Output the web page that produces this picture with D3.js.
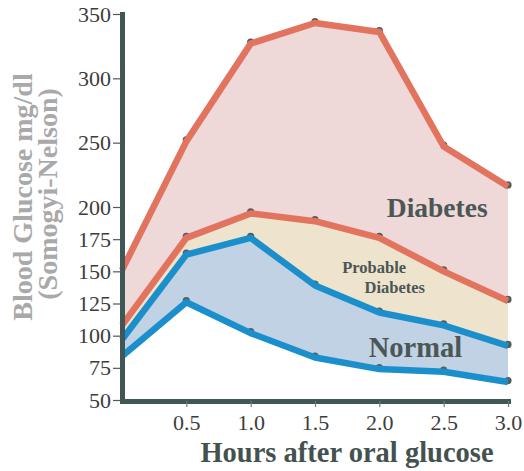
<!DOCTYPE html>
<html>
<head>
<meta charset="utf-8">
<script src="https://cdn.jsdelivr.net/npm/d3@7"></script>
<style>
  html, body { margin: 0; padding: 0; background: #ffffff; }
  svg { display: block; }
</style>
</head>
<body>
<svg id="chart" width="524" height="471"></svg>
<script>
// ---- data ----
const hours = [0, 0.5, 1.0, 1.5, 2.0, 2.5, 3.0];
const diabetesUpper = [151, 251, 327, 343, 336, 247, 216];
const probableUpper = [108, 176, 195, 189, 176, 150, 127];
const normalUpper = [97, 163, 176, 139, 118, 108, 92];
const normalLower = [84, 126, 102, 83, 74, 72, 64];
const yTicks = [50, 75, 100, 125, 150, 175, 200, 250, 300, 350];
const xTicks = [0.5, 1.0, 1.5, 2.0, 2.5, 3.0];
const xTickLabels = ["0.5", "1.0", "1.5", "2.0", "2.5", "3.0"];

const svg = d3.select("#chart");
const serif = "'Liberation Serif', 'DejaVu Serif', serif";

const x = d3.scaleLinear().domain([0, 3]).range([122, 508]);
const y = d3.scaleLinear().domain([50, 350]).range([400, 14]);

function band(top, bottom) {
  return d3.area()
    .x((d, i) => x(hours[i]))
    .y0((d, i) => y(bottom[i]))
    .y1((d, i) => y(top[i]))(top);
}
const line = d3.line().x((d, i) => x(hours[i])).y(d => y(d));

// fills
svg.append("path").attr("d", band(diabetesUpper, probableUpper)).attr("fill", "#eed8d8");
svg.append("path").attr("d", band(probableUpper, normalUpper)).attr("fill", "#eee3cd");
svg.append("path").attr("d", band(normalUpper, normalLower)).attr("fill", "#c0d2e3");

// dots beneath lines
const series = [
  { vals: diabetesUpper, color: "#e2735f" },
  { vals: probableUpper, color: "#e2735f" },
  { vals: normalUpper, color: "#1b8fcc" },
  { vals: normalLower, color: "#1b8fcc" }
];
series.forEach(s => {
  svg.append("g").selectAll("circle").data(s.vals.slice(1)).join("circle")
    .attr("cx", (d, i) => x(hours[i + 1]))
    .attr("cy", d => y(d) - 1.5)
    .attr("r", 3.6)
    .attr("fill", "#555d5c");
});
series.forEach(s => {
  svg.append("path").attr("d", line(s.vals))
    .attr("fill", "none")
    .attr("stroke", s.color)
    .attr("stroke-width", 6.5)
    .attr("stroke-linejoin", "round");
});

// region labels
const lab = svg.append("g").attr("font-family", serif).attr("font-weight", "bold").attr("fill", "#4a5755");
lab.append("text").attr("x", x(2.45)).attr("y", 217).attr("text-anchor", "middle").attr("font-size", 27.5).text("Diabetes");
lab.append("text").attr("x", x(1.96)).attr("y", 273).attr("text-anchor", "middle").attr("font-size", 16.5).text("Probable");
lab.append("text").attr("x", x(2.12)).attr("y", 293).attr("text-anchor", "middle").attr("font-size", 16.5).text("Diabetes");
lab.append("text").attr("x", x(2.28)).attr("y", 357).attr("text-anchor", "middle").attr("font-size", 28.5).text("Normal");

// axes
const axisColor = "#3f5856";
const yAxis = svg.append("g").attr("transform", "translate(122,0)")
  .call(d3.axisLeft(y).tickValues(yTicks).tickSize(9).tickSizeOuter(0).tickPadding(2));
yAxis.select(".domain").attr("stroke", axisColor).attr("stroke-width", 5).attr("stroke-linecap", "square");
yAxis.selectAll(".tick line").attr("stroke", "#555").attr("stroke-width", 1.2);
yAxis.selectAll(".tick text").attr("font-family", serif).attr("font-size", 22).attr("fill", "#3d3d3d");
yAxis.attr("font-size", null).attr("font-family", null);

const xAxis = svg.append("g").attr("transform", "translate(0,401)")
  .call(d3.axisBottom(x).tickValues(xTicks).tickFormat((d, i) => xTickLabels[i]).tickSize(6).tickSizeOuter(0).tickPadding(7));
xAxis.select(".domain").attr("stroke", axisColor).attr("stroke-width", 5).attr("stroke-linecap", "square");
xAxis.selectAll(".tick line").attr("stroke", "#777").attr("stroke-width", 1.2);
xAxis.selectAll(".tick text").attr("font-family", serif).attr("font-size", 22).attr("fill", "#3d3d3d");
xAxis.attr("font-size", null).attr("font-family", null);

// axis titles
svg.append("text").attr("x", 347).attr("y", 462).attr("text-anchor", "middle")
  .attr("font-family", serif).attr("font-weight", "bold").attr("font-size", 28.5)
  .attr("fill", "#44524f").text("Hours after oral glucose");

const yt = svg.append("g").attr("font-family", serif).attr("font-weight", "bold")
  .attr("font-size", 28).attr("fill", "#a9a9a9").attr("text-anchor", "middle");
yt.append("text").attr("transform", "translate(32,197) rotate(-90)").text("Blood Glucose mg/dl");
yt.append("text").attr("transform", "translate(57,194) rotate(-90)").text("(Somogyi-Nelson)");
</script>
</body>
</html>
